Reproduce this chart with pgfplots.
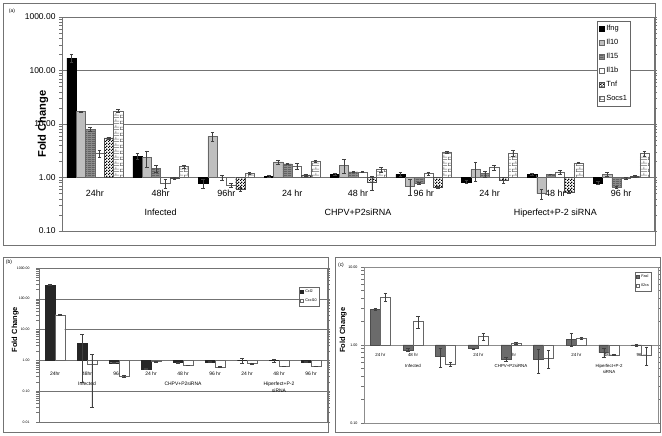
\documentclass[border=0pt]{standalone}
\usepackage{fontspec}
\setmainfont{Liberation Sans}
\usepackage{pgfplots}
\usepackage{pgfplotstable}
\pgfplotsset{compat=1.18}
\usetikzlibrary{patterns}

\pgfdeclarepatternformonly{smallbricks}{\pgfpointorigin}{\pgfqpoint{8bp}{6bp}}{\pgfqpoint{8bp}{6bp}}{%
  \pgfsetlinewidth{0.6bp}%
  \pgfpathmoveto{\pgfqpoint{0bp}{0.3bp}}\pgfpathlineto{\pgfqpoint{8bp}{0.3bp}}%
  \pgfpathmoveto{\pgfqpoint{0bp}{3.3bp}}\pgfpathlineto{\pgfqpoint{8bp}{3.3bp}}%
  \pgfpathmoveto{\pgfqpoint{0.3bp}{0.3bp}}\pgfpathlineto{\pgfqpoint{0.3bp}{3.3bp}}%
  \pgfpathmoveto{\pgfqpoint{4.3bp}{3.3bp}}\pgfpathlineto{\pgfqpoint{4.3bp}{6bp}}%
  \pgfusepath{stroke}}
\pgfdeclarepatternformonly{hstripes}{\pgfpointorigin}{\pgfqpoint{4bp}{2bp}}{\pgfqpoint{4bp}{2bp}}{%
  \pgfpathrectangle{\pgfqpoint{0bp}{0bp}}{\pgfqpoint{4bp}{0.8bp}}\pgfusepath{fill}}
\pgfdeclarepatternformonly{smallcheck}{\pgfpointorigin}{\pgfqpoint{3bp}{3bp}}{\pgfqpoint{3bp}{3bp}}{%
  \pgfpathrectangle{\pgfqpoint{0bp}{0bp}}{\pgfqpoint{1.5bp}{1.5bp}}%
  \pgfpathrectangle{\pgfqpoint{1.5bp}{1.5bp}}{\pgfqpoint{1.5bp}{1.5bp}}\pgfusepath{fill}}

\pgfplotstableread{
x ifng eifng il10 eil10 il15 eil15 ilb eilb tnf etnf socs esocs
0 170  30   17   0.3  8.0  0.6  2.8  0.4  5.5  0.2  17.5 1.0
1 2.5  0.3  2.35 0.8  1.47 0.2  0.79 0.15 0.96 0.05 1.6  0.08
2 0.77 0.15 5.9  1.1  1.0  0.12 0.72 0.05 0.6  0.05 1.18 0.05
3 1.05 0.03 1.95 0.15 1.8  0.05 1.65 0.2  1.12 0.05 2.0  0.06
4 1.15 0.03 1.7  0.5  1.27 0.03 1.27 0.02 0.83 0.24 1.41 0.15
5 1.15 0.1  0.69 0.23 0.79 0.04 1.19 0.08 0.67 0.03 3.0  0.1
6 0.83 0.05 1.41 0.55 1.18 0.15 1.54 0.15 0.89 0.12 2.9  0.4
7 1.15 0.05 0.5  0.1  1.15 0.02 1.27 0.1  0.54 0.03 1.88 0.02
8 0.79 0.05 1.15 0.1  0.67 0.03 0.97 0.05 1.05 0.03 2.8  0.35
}\dataA

\pgfplotstableread{
x ccl eccl cxcl ecxcl
0 280  10   30   1.5
1 3.6  3.4  0.78 0.75
2 0.84 0.03 0.31 0.03
3 0.52 0.02 0.93 0.03
4 0.85 0.02 0.7  0.02
5 0.9  0.02 0.62 0.02
6 1.0  0.2  0.8  0.04
7 0.98 0.1  0.65 0.02
8 0.9  0.02 0.65 0.02
}\dataB

\pgfplotstableread{
x fasl efasl ilra eilra
0 2.88 0.05 4.14 0.45
1 0.86 0.04 2.0  0.35
2 0.72 0.2  0.57 0.04
3 0.9  0.02 1.28 0.13
4 0.66 0.04 1.05 0.02
5 0.66 0.22 0.68 0.18
6 1.18 0.22 1.22 0.05
7 0.8  0.1  0.75 0.02
8 0.99 0.02 0.75 0.2
}\dataC

\pgfplotsset{
  eb/.style={
    error bars/.cd, y dir=both, y explicit,
    error bar style={black!75, line width=0.45bp},
    error mark options={rotate=90, mark size=1.8bp, black!75, line width=0.45bp},
  },
}

\begin{document}
\begin{tikzpicture}
\useasboundingbox (0,0) rectangle (662bp,436bp);
\fill[white] (0,0) rectangle (662bp,436bp);
\draw[black!55, line width=0.6bp] (3bp,191bp) rectangle (655bp,433bp);
\draw[black!55, line width=0.6bp] (3bp,4bp) rectangle (328bp,179bp);
\draw[black!55, line width=0.6bp] (335bp,4bp) rectangle (660bp,179bp);
\node[font=\fontsize{5}{6}\selectfont, inner sep=0pt] at (12bp,425bp) {(a)};
\node[font=\fontsize{5}{6}\selectfont, inner sep=0pt] at (9bp,174bp) {(b)};
\node[font=\fontsize{5}{6}\selectfont, inner sep=0pt] at (341bp,171bp) {(c)};

% ---------- panel (a)
\begin{axis}[
  ymode=log, scale only axis,
  at={(62bp,205bp)}, anchor=south west, width=592bp, height=214bp,
  xmin=-0.5, xmax=8.5, xtick={0,...,8},
  ymin=0.1, ymax=1000,
  ybar=0pt, bar width=9.3bp,
  ymajorgrids, grid style={black!55, line width=0.5bp},
  axis line style={black!55, line width=0.5bp},
  tick align=outside, major tick length=3bp,
  ytick style={black!55, line width=0.5bp},
  xtick style={draw=none},
  ytick={0.1,1,10,100,1000},
  yticklabels={0.10,1.00,10.00,100.00,1000.00},
  yticklabel style={font=\fontsize{8.5}{10}\selectfont},
  xticklabels={24hr,{48hr\\[8bp]Infected},96hr,24 hr,{48 hr\\[8bp]CHPV+P2siRNA},96 hr,24 hr,{48 hr\\[8bp]Hiperfect+P-2 siRNA},96 hr},
  xticklabel style={font=\fontsize{9}{10.5}\selectfont, align=center, anchor=north, inner sep=0pt, yshift=44bp},
  ylabel={\bfseries Fold Change},
  every axis y label/.style={at={(axis description cs:-0.032,0.5)}, anchor=center, rotate=90, font=\fontsize{11.2}{13}\selectfont},
  legend cell align=left,
  legend image code/.code={\draw[#1] (0bp,-2.5bp) rectangle (5bp,2.5bp);},
  legend style={at={(axis description cs:0.904,0.981)}, anchor=north west, draw=black!60, line width=0.5bp,
    font=\fontsize{7.5}{8.5}\selectfont, inner sep=1.5bp, row sep=3.3bp},
]
\addplot[fill=black, draw=black, line width=0.4bp, eb] table[x=x, y=ifng, y error=eifng] {\dataA};
\addplot[fill=black!25, draw=black!60, line width=0.4bp, eb] table[x=x, y=il10, y error=eil10] {\dataA};
\addplot[fill=black!45, draw=black!60, line width=0.4bp, postaction={pattern=hstripes, pattern color=black!70}, eb] table[x=x, y=il15, y error=eil15] {\dataA};
\addplot[fill=white, draw=black!60, line width=0.4bp, eb] table[x=x, y=ilb, y error=eilb] {\dataA};
\addplot[fill=white, draw=black!70, line width=0.4bp, postaction={pattern=smallcheck, pattern color=black}, eb] table[x=x, y=tnf, y error=etnf] {\dataA};
\addplot[fill=white, draw=black!60, line width=0.4bp, postaction={pattern=smallbricks, pattern color=black!60}, eb] table[x=x, y=socs, y error=esocs] {\dataA};
\legend{Ifng,Il10,Il15,Il1b,Tnf,Socs1}
\end{axis}

% ---------- panel (b)
\begin{axis}[
  ymode=log, scale only axis,
  at={(39bp,14bp)}, anchor=south west, width=288bp, height=154bp,
  xmin=-0.5, xmax=8.5, xtick={0,...,8},
  ymin=0.01, ymax=1000,
  ybar=0pt, bar width=9.7bp,
  ymajorgrids, grid style={black!55, line width=0.5bp},
  axis line style={black!55, line width=0.5bp},
  tick align=outside, major tick length=3bp,
  ytick style={black!55, line width=0.5bp},
  xtick style={draw=none},
  ytick={0.01,0.1,1,10,100,1000},
  yticklabels={0.01,0.10,1.00,10.00,100.00,1000.00},
  yticklabel style={font=\fontsize{3.5}{4}\selectfont, xshift=-3bp},
  xticklabels={24hr,{48hr\\[4.3bp]Infected},96 hr,24 hr,{48 hr\\[4.3bp]CHPV+P2siRNA},96 hr,24 hr,{48 hr\\[4.3bp]Hiperfect+P-2\\[1bp]siRNA},96 hr},
  xticklabel style={font=\fontsize{5}{6}\selectfont, align=center, anchor=north, inner sep=0pt, yshift=53.5bp},
  ylabel={\bfseries Fold Change},
  every axis y label/.style={at={(axis description cs:-0.083,0.6)}, anchor=center, rotate=90, font=\fontsize{7.5}{9}\selectfont},
  legend cell align=left,
  legend image code/.code={\draw[#1] (0bp,-1.4bp) rectangle (2.8bp,1.4bp);},
  legend style={at={(axis description cs:0.903,0.877)}, anchor=north west, draw=black!60, line width=0.4bp,
    font=\fontsize{3.8}{4.5}\selectfont, inner sep=0.8bp, row sep=0.8bp},
]
\addplot[fill=black!85, draw=black!85, line width=0.4bp, eb] table[x=x, y=ccl, y error=eccl] {\dataB};
\addplot[fill=white, draw=black!60, line width=0.4bp, eb] table[x=x, y=cxcl, y error=ecxcl] {\dataB};
\legend{Ccl2,Cxcl10}
\end{axis}

% ---------- panel (c)
\begin{axis}[
  ymode=log, scale only axis,
  at={(364bp,13bp)}, anchor=south west, width=294bp, height=156bp,
  xmin=-0.5, xmax=8.5, xtick={0,...,8},
  ymin=0.1, ymax=10,
  ybar=0pt, bar width=10bp,
  ymajorgrids, grid style={black!45, line width=0.4bp},
  axis line style={black!45, line width=0.4bp},
  tick align=outside, major tick length=3bp,
  ytick style={black!55, line width=0.5bp},
  xtick style={draw=none},
  ytick={0.1,1,10},
  yticklabels={0.10,1.00,10.00},
  yticklabel style={font=\fontsize{3.7}{4.2}\selectfont},
  xticklabels={24 hr,{48 hr\\[6.3bp]Infected},96 hr,24 hr,{48 hr\\[6.3bp]CHPV+P2siRNA},96 hr,24 hr,{48 hr\\[6.3bp]Hiperfect+P-2\\[0.5bp]siRNA},96 hr},
  xticklabel style={font=\fontsize{4.4}{5.3}\selectfont, align=center, anchor=north, inner sep=0pt, yshift=73bp},
  ylabel={\bfseries Fold Change},
  every axis y label/.style={at={(axis description cs:-0.071,0.596)}, anchor=center, rotate=90, font=\fontsize{7.5}{9}\selectfont},
  legend cell align=left,
  legend image code/.code={\draw[#1] (0bp,-1.4bp) rectangle (2.8bp,1.4bp);},
  legend style={at={(axis description cs:0.922,0.968)}, anchor=north west, draw=black!60, line width=0.4bp,
    font=\fontsize{3.8}{4.5}\selectfont, inner sep=0.8bp, row sep=0.5bp},
]
\addplot[fill=black!58, draw=black!70, line width=0.4bp, eb] table[x=x, y=fasl, y error=efasl] {\dataC};
\addplot[fill=white, draw=black!60, line width=0.4bp, eb] table[x=x, y=ilra, y error=eilra] {\dataC};
\legend{Fasl,Il2ra}
\end{axis}
\end{tikzpicture}
\end{document}
